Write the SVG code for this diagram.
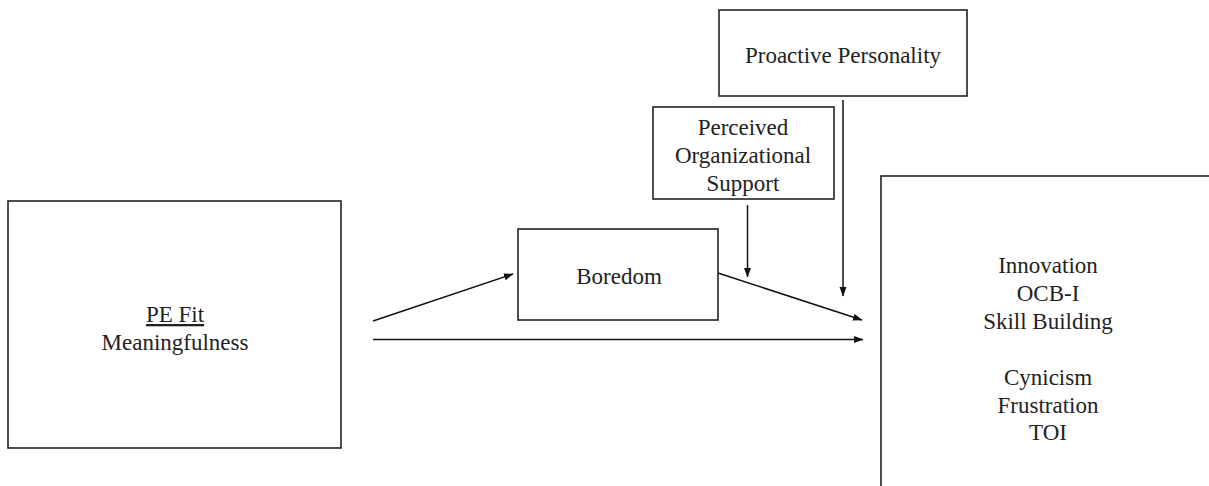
<svg xmlns="http://www.w3.org/2000/svg" width="1209" height="486" viewBox="0 0 1209 486">
<style>
.box{fill:#fff;stroke:#222;stroke-width:1.6}
.t{font-family:"Liberation Serif","Times New Roman",serif;font-size:23px;fill:#222;text-anchor:middle}
.c{stroke:#111;stroke-width:1.5;fill:none}
</style>
<defs>
<marker id="ah" markerWidth="10" markerHeight="8" refX="9" refY="4" orient="auto" markerUnits="userSpaceOnUse">
<path d="M0,0.5 L9.5,4 L0,7.5 Z" fill="#111"/>
</marker>
</defs>
<rect width="1209" height="486" fill="#fff"/>
<g id="pe">
<rect class="box" x="8" y="201" width="333" height="247"/>
<text class="t" x="175" y="322" text-decoration="underline">PE Fit</text>
<text class="t" x="175" y="350">Meaningfulness</text>
</g>
<g id="boredom">
<rect class="box" x="518" y="229" width="200" height="91"/>
<text class="t" x="619" y="284">Boredom</text>
</g>
<g id="pos">
<rect class="box" x="653" y="107" width="181" height="92"/>
<text class="t" x="743" y="135">Perceived</text>
<text class="t" x="743" y="163">Organizational</text>
<text class="t" x="743" y="191">Support</text>
</g>
<g id="pp">
<rect class="box" x="719" y="10" width="248" height="86"/>
<text class="t" x="843" y="63">Proactive Personality</text>
</g>
<g id="outcomes">
<rect class="box" x="881" y="176" width="400" height="400"/>
<text class="t" x="1048" y="273">Innovation</text>
<text class="t" x="1048" y="301">OCB-I</text>
<text class="t" x="1048" y="329">Skill Building</text>
<text class="t" x="1048" y="385">Cynicism</text>
<text class="t" x="1048" y="413">Frustration</text>
<text class="t" x="1048" y="440">TOI</text>
</g>
<g id="connectors">
<line class="c" x1="373" y1="321" x2="513" y2="274" marker-end="url(#ah)"/>
<line class="c" x1="718" y1="273" x2="862" y2="320" marker-end="url(#ah)"/>
<line class="c" x1="373" y1="339.5" x2="863" y2="339.5" marker-end="url(#ah)"/>
<line class="c" x1="747.5" y1="205" x2="747.5" y2="277" marker-end="url(#ah)"/>
<line class="c" x1="843" y1="100" x2="843" y2="296" marker-end="url(#ah)"/>
</g>
</svg>
